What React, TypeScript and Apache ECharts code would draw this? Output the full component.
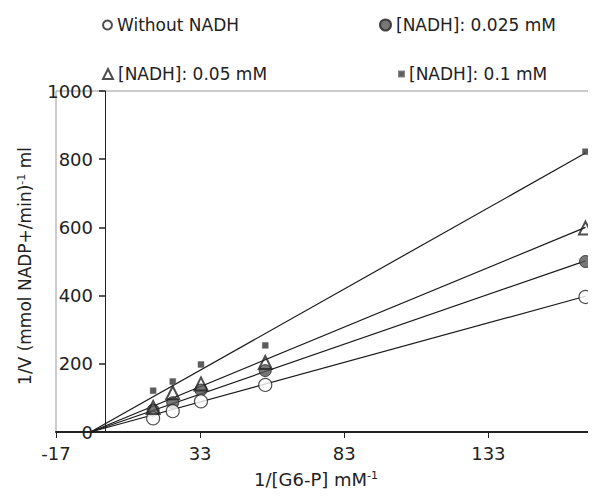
import React, { useEffect, useRef } from "react";
import * as echarts from "echarts";

// 1/[G6-P] (mM^-1)
const xValues = [16.7, 23.5, 33.3, 55.6, 166.7];
// 1/V values per series
const withoutNadh = [40, 61, 90, 138, 396];
const nadh025 = [64, 86, 123, 180, 500];
const nadh05 = [72, 115, 141, 204, 598];
const nadh1 = [121, 148, 198, 254, 822];

// fitted regression lines: common x-intercept and end value at the last x
const fitStartX = -5;
const fitEndX = 166.7;
const fitEndY = [398, 502, 600, 818]; // without, 0.025, 0.05, 0.1

const xTicks = [-17, 33, 83, 133];
const seriesNames = ["Without NADH", "[NADH]: 0.025 mM", "[NADH]: 0.05 mM", "[NADH]: 0.1 mM"];

const X_MIN = -17;
const X_MAX = 170;

const FONT = "'DejaVu Sans', Verdana, sans-serif";
const INK = "#222";

export default function App() {
  const ref = useRef<HTMLDivElement>(null);
  useEffect(() => {
    if (!ref.current) return;
    const chart = echarts.init(ref.current, null, { renderer: "svg" });
    const W = 596;
    const gridLeft = 56;
    const gridRight = 1;
    const plotW = W - gridLeft - gridRight;
    // y axis sits on x = 0
    const zeroOffset = ((0 - X_MIN) / (X_MAX - X_MIN)) * plotW;

    const pts = (ys: number[]) => xValues.map((x, i) => [x, ys[i]]);
    const lineSeries = fitEndY.map((ye, i) => ({
      type: "line",
      name: "fit" + i,
      data: [
        [fitStartX, 0],
        [fitEndX, ye],
      ],
      symbol: "none",
      silent: true,
      lineStyle: { color: "#1a1a1a", width: 1.2 },
      z: 1,
    }));
    const legendBase = {
      orient: "horizontal",
      itemGap: 0,
      padding: 0,
      textStyle: { fontFamily: FONT, fontSize: 17, color: INK, lineHeight: 20 },
    };
    chart.setOption({
      animation: false,
      backgroundColor: "#fff",
      grid: {
        left: gridLeft,
        right: gridRight,
        top: 91,
        bottom: 65,
        show: true,
        borderColor: "#999",
        borderWidth: 1,
      },
      legend: [
        { ...legendBase, data: [seriesNames[0]], left: 102, top: 15, itemWidth: 9, itemHeight: 9 },
        { ...legendBase, data: [seriesNames[1]], left: 379, top: 15, itemWidth: 11, itemHeight: 11 },
        { ...legendBase, data: [seriesNames[2]], left: 102, top: 64, itemWidth: 10, itemHeight: 10 },
        { ...legendBase, data: [seriesNames[3]], left: 398, top: 64, itemWidth: 5, itemHeight: 5 },
      ],
      xAxis: {
        type: "value",
        min: X_MIN,
        max: X_MAX,
        interval: 50,
        splitLine: { show: false },
        axisLine: { onZero: false, lineStyle: { color: INK, width: 2 } },
        axisTick: { show: true, inside: false, length: 6, lineStyle: { color: INK, width: 1 }, customValues: xTicks },
        axisLabel: { fontFamily: FONT, fontSize: 18, color: INK, margin: 12, customValues: xTicks },
      },
      yAxis: {
        type: "value",
        min: 0,
        max: 1000,
        interval: 200,
        offset: -zeroOffset,
        splitLine: { show: false },
        axisLine: { onZero: false, lineStyle: { color: INK, width: 1 } },
        axisTick: { show: true, inside: false, length: 6, lineStyle: { color: INK, width: 1.5 } },
        axisLabel: {
          fontFamily: FONT,
          fontSize: 18,
          color: INK,
          margin: 12,
          formatter: (v: number) => String(v),
        },
      },
      graphic: [
        {
          type: "text",
          x: 316,
          y: 479,
          style: {
            text: "{a|1/[G6-P] mM}{b|-1}",
            align: "center",
            verticalAlign: "middle",
            fill: INK,
            rich: {
              a: { fontFamily: FONT, fontSize: 18, fill: INK },
              b: { fontFamily: FONT, fontSize: 11, fill: INK, verticalAlign: "top", padding: [0, 0, 8, 0] },
            },
          },
        },
        {
          type: "text",
          x: 25,
          y: 266,
          rotation: Math.PI / 2,
          style: {
            text: "{a|1/V (mmol NADP+/min)}{b|-1}{a| ml}",
            align: "center",
            verticalAlign: "middle",
            fill: INK,
            rich: {
              a: { fontFamily: FONT, fontSize: 17, fill: INK },
              b: { fontFamily: FONT, fontSize: 11, fill: INK, verticalAlign: "top", padding: [0, 0, 8, 0] },
            },
          },
        },
      ],
      series: [
        ...lineSeries,
        {
          type: "scatter",
          name: seriesNames[1],
          data: pts(nadh025),
          symbol: "circle",
          symbolSize: 12,
          itemStyle: { color: "#555", borderColor: INK, borderWidth: 1 },
          z: 2,
        },
        {
          type: "scatter",
          name: seriesNames[0],
          data: pts(withoutNadh),
          symbol: "circle",
          symbolSize: 13,
          itemStyle: { color: "#fff", borderColor: INK, borderWidth: 1.2 },
          z: 3,
        },
        {
          type: "scatter",
          name: seriesNames[2],
          data: pts(nadh05),
          symbol: "triangle",
          symbolSize: 13,
          itemStyle: { color: "rgba(255,255,255,0)", borderColor: INK, borderWidth: 2 },
          z: 4,
        },
        {
          type: "scatter",
          name: seriesNames[3],
          data: pts(nadh1),
          symbol: "rect",
          symbolSize: 6,
          itemStyle: { color: "#333", borderColor: "#666", borderWidth: 0.5 },
          z: 5,
        },
      ],
    });
    return () => chart.dispose();
  }, []);
  return <div ref={ref} style={{ width: 596, height: 497, margin: -8 }} />;
}
